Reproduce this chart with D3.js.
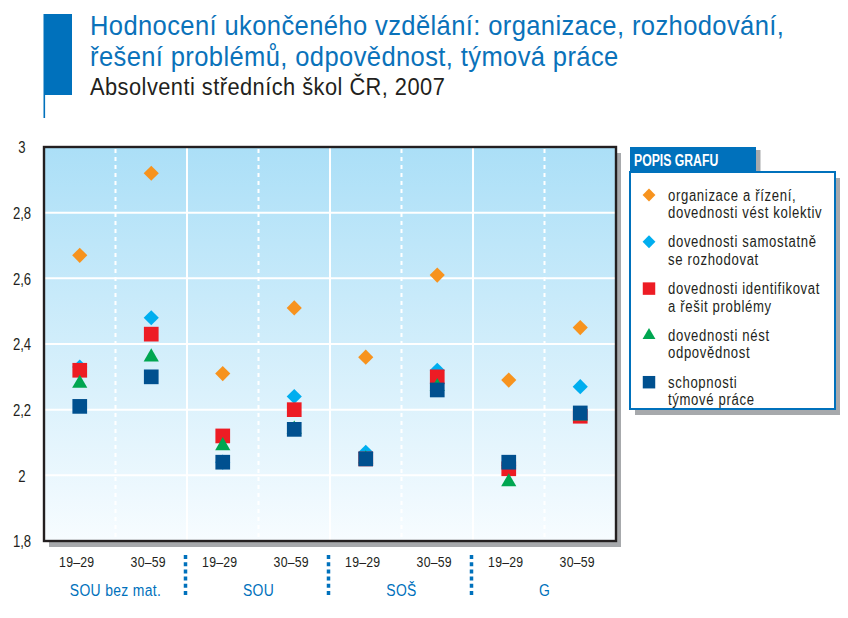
<!DOCTYPE html>
<html><head><meta charset="utf-8">
<script src="https://cdn.jsdelivr.net/npm/d3@7"></script>
<style>
body{margin:0;background:#fff}
svg{display:block}
text{font-family:"Liberation Sans",Arial,sans-serif}
</style>
</head><body>
<svg id="chart" width="848" height="618"></svg>
<script>
// ---- data ----
const titleLines = ["Hodnocení ukončeného vzdělání: organizace, rozhodování,", "řešení problémů, odpovědnost, týmová práce"];
const subtitle = "Absolventi středních škol ČR, 2007";
const groups = ["SOU bez mat.", "SOU", "SOŠ", "G"];
const ageGroups = ["19–29", "30–59"];
const yTicks = [1.8, 2, 2.2, 2.4, 2.6, 2.8, 3];
const legendTitle = "POPIS GRAFU";
const seriesNames = [
  ["organizace a řízení,", "dovednosti vést kolektiv"],
  ["dovednosti samostatně", "se rozhodovat"],
  ["dovednosti identifikovat", "a řešit problémy"],
  ["dovednosti nést", "odpovědnost"],
  ["schopnosti", "týmové práce"]
];
const seriesColors = ["#f7931e", "#00aeef", "#ed1c24", "#00a651", "#00508f"];
const seriesShapes = ["diamond", "diamond", "square", "triangle", "square"];
// values per category: SOU bez mat. 19–29, 30–59, SOU 19–29, 30–59, SOŠ 19–29, 30–59, G 19–29, 30–59
const organizace = [2.67, 2.92, 2.31, 2.51, 2.36, 2.61, 2.29, 2.45];
const samostatne = [2.33, 2.48, 2.04, 2.24, 2.07, 2.32, 2.03, 2.27];
const problemy   = [2.32, 2.43, 2.12, 2.20, 2.05, 2.30, 2.02, 2.18];
const odpovednost= [2.28, 2.36, 2.09, 2.14, 2.05, 2.27, 1.98, 2.18];
const tymova     = [2.21, 2.30, 2.04, 2.14, 2.05, 2.26, 2.04, 2.19];
const seriesValues = [organizace, samostatne, problemy, odpovednost, tymova];

// ---- layout ----
const svg = d3.select("#chart");
const P = {left: 44, right: 616, top: 147, bottom: 541};
const K = 0.82; // horizontal condensing of small texts
const cats = [];
groups.forEach(g => ageGroups.forEach(a => cats.push(g + "|" + a)));

const x = d3.scaleBand().domain(cats).range([P.left, P.right]);
const xg = d3.scaleBand().domain(groups).range([P.left, P.right]);
const y = d3.scaleLinear().domain([1.8, 3]).range([P.bottom, P.top]);
const fmt = d3.formatLocale({decimal: ",", thousands: " ", grouping: [3], currency: ["", " Kč"]}).format("~g");

// header
svg.append("rect").attr("x", 43.5).attr("y", 14).attr("width", 28.5).attr("height", 81).attr("fill", "#0071bc");
svg.append("rect").attr("x", 43.5).attr("y", 95).attr("width", 1.6).attr("height", 23).attr("fill", "#0071bc");
svg.append("g").selectAll("text").data(titleLines).join("text")
  .attr("transform", (d, i) => `translate(90,${35 + i * 31}) scale(0.93,1)`)
  .attr("fill", "#0a72ba").attr("font-size", 27.5).attr("letter-spacing", 0.4)
  .text(d => d);
svg.append("text").attr("transform", "translate(90,95) scale(0.91,1)").attr("fill", "#231f20")
  .attr("font-size", 24).attr("letter-spacing", 0.5).text(subtitle);

// defs
const defs = svg.append("defs");
const grad = defs.append("linearGradient").attr("id", "bg").attr("x1", 0).attr("x2", 0).attr("y1", 0).attr("y2", 1);
grad.append("stop").attr("offset", "0%").attr("stop-color", "#abdff7");
grad.append("stop").attr("offset", "100%").attr("stop-color", "#f7fcff");

// plot shadow + background
svg.append("rect").attr("x", P.left + 5).attr("y", P.top + 6)
  .attr("width", P.right - P.left).attr("height", P.bottom - P.top).attr("fill", "#a7a9ac");
svg.append("rect").attr("x", P.left).attr("y", P.top)
  .attr("width", P.right - P.left).attr("height", P.bottom - P.top).attr("fill", "url(#bg)");

// grid
const grid = svg.append("g");
grid.selectAll("line.h").data(yTicks.slice(1, -1)).join("line")
  .attr("x1", P.left).attr("x2", P.right).attr("y1", d => y(d)).attr("y2", d => y(d))
  .attr("stroke", "#fff").attr("stroke-width", 2);
grid.selectAll("line.vs").data(groups.slice(1)).join("line")
  .attr("x1", d => xg(d)).attr("x2", d => xg(d)).attr("y1", P.top).attr("y2", P.bottom)
  .attr("stroke", "#fff").attr("stroke-width", 2);
grid.selectAll("line.vd").data(groups).join("line")
  .attr("x1", d => xg(d) + xg.bandwidth() / 2).attr("x2", d => xg(d) + xg.bandwidth() / 2)
  .attr("y1", P.top + 2).attr("y2", P.bottom)
  .attr("stroke", "#fff").attr("stroke-width", 2).attr("stroke-dasharray", "4,4");

// frame
svg.append("rect").attr("x", P.left).attr("y", P.top)
  .attr("width", P.right - P.left).attr("height", P.bottom - P.top)
  .attr("fill", "none").attr("stroke", "#231f20").attr("stroke-width", 2.4);

// y axis
const yAxis = svg.append("g").call(d3.axisLeft(y).tickValues(yTicks).tickFormat(fmt).tickSize(0));
yAxis.select(".domain").remove();
yAxis.selectAll("text").attr("x", 22 / K).attr("transform", `scale(${K},1)`).attr("text-anchor", "middle")
  .attr("font-size", 16).attr("fill", "#231f20").attr("dy", "0.36em")
  .style("font-family", '"Liberation Sans",Arial,sans-serif');

// x axis (age labels)
const xAxis = svg.append("g").attr("transform", `translate(-3,${P.bottom + 21})`)
  .call(d3.axisBottom(x).tickFormat(d => d.split("|")[1]).tickSize(0));
xAxis.select(".domain").remove();
xAxis.selectAll("text").attr("font-size", 15).attr("fill", "#231f20").attr("letter-spacing", 0.3)
  .attr("transform", `scale(${K},1)`)
  .attr("dy", "0.36em").attr("y", 0)
  .style("font-family", '"Liberation Sans",Arial,sans-serif');

// group labels
svg.append("g").selectAll("text").data(groups).join("text")
  .attr("transform", d => `translate(${xg(d) + xg.bandwidth() / 2},596) scale(${K},1)`)
  .attr("text-anchor", "middle").attr("font-size", 17).attr("letter-spacing", 0.4)
  .attr("fill", "#0071bc").text(d => d);

// separators
svg.append("g").selectAll("line").data(groups.slice(1)).join("line")
  .attr("x1", d => xg(d) - 1.5).attr("x2", d => xg(d) - 1.5).attr("y1", 555).attr("y2", 598)
  .attr("stroke", "#0071bc").attr("stroke-width", 3.5).attr("stroke-dasharray", "4,3.2");

// symbols
function sym(shape, scale) {
  if (shape === "square") return {p: d3.symbol(d3.symbolSquare, 216 * scale)(), r: 0};
  if (shape === "diamond") return {p: d3.symbol(d3.symbolSquare, 115 * scale)(), r: 45};
  return {p: d3.symbol(d3.symbolTriangle, 100 * scale)(), r: 0};
}

// marks
const marks = svg.append("g");
seriesValues.forEach((vals, si) => {
  const s = sym(seriesShapes[si], 1);
  marks.append("g").selectAll("path").data(vals.map((v, i) => ({v, c: cats[i]}))).join("path")
    .attr("d", s.p)
    .attr("transform", d => `translate(${x(d.c) + x.bandwidth() / 2},${y(d.v)}) rotate(${s.r})`)
    .attr("fill", seriesColors[si]);
});

// legend
const L = {x: 630, y: 172, w: 205, h: 237};
const lg = svg.append("g");
lg.append("rect").attr("x", L.x + 5).attr("y", L.y + 6).attr("width", L.w).attr("height", L.h).attr("fill", "#a7a9ac");
lg.append("rect").attr("x", 756).attr("y", 150).attr("width", 4.5).attr("height", 24).attr("fill", "#a7a9ac");
lg.append("rect").attr("x", L.x).attr("y", 147).attr("width", 126).attr("height", 26).attr("fill", "#0071bc");
lg.append("text").attr("transform", "translate(634,166) scale(0.72,1)").attr("fill", "#fff").attr("font-weight", "bold")
  .attr("font-size", 17).text(legendTitle);
lg.append("rect").attr("x", L.x).attr("y", L.y).attr("width", L.w).attr("height", L.h)
  .attr("fill", "#fff").attr("stroke", "#0071bc").attr("stroke-width", 2);
seriesNames.forEach((lines, i) => {
  const my = 195 + i * 46.8;
  const s = sym(seriesShapes[i], 0.72);
  lg.append("path").attr("d", s.p).attr("transform", `translate(649,${my}) rotate(${s.r})`).attr("fill", seriesColors[i]);
  lg.append("g").selectAll("text").data(lines).join("text")
    .attr("transform", (d, j) => `translate(668,${my + 5.5 + j * 17.5}) scale(${K},1)`)
    .attr("font-size", 16).attr("letter-spacing", 0.8).attr("fill", "#231f20").text(d => d);
});
</script>
</body></html>
